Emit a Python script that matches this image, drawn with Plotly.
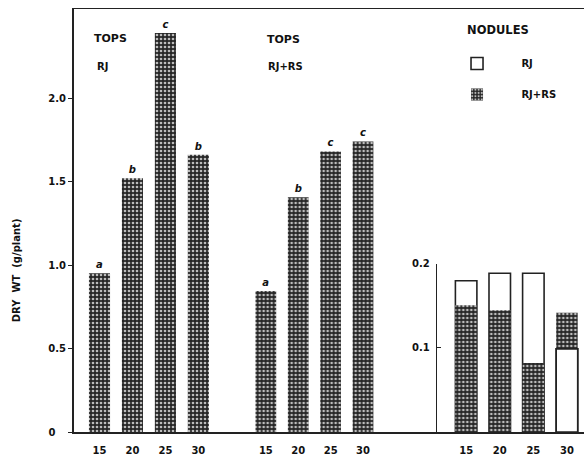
import plotly.graph_objects as go

temps = ["15", "20", "25", "30"]
tops_rj = [0.95, 1.52, 2.39, 1.66]
tops_rj_letters = ["a", "b", "c", "b"]
tops_rjrs = [0.845, 1.405, 1.68, 1.74]
tops_rjrs_letters = ["a", "b", "c", "c"]
nod_rj = [0.180, 0.189, 0.189, 0.099]
nod_rjrs = [0.151, 0.145, 0.082, 0.142]

tops_ticks = [0, 0.5, 1.0, 1.5, 2.0]
tops_ticktext = ["0\u00a0\u00a0\u00a0", "0.5", "1.0", "1.5", "2.0"]
nod_ticks = [0.1, 0.2]
nod_ticktext = ["0.1", "0.2"]

FONT = "DejaVu Sans"
DARK = dict(color="#2e2e2e", line=dict(width=0),
            pattern=dict(shape=".", size=4, solidity=0.35,
                         fgcolor="#bdbdbd", bgcolor="#262626", fillmode="replace"))
WHITE = dict(color="white", line=dict(color="#222", width=1.6))
LETTER_FONT = dict(size=10, family=FONT, color="#111", weight="bold", style="italic")
PAD = "\u00a0" * 7

fig = go.Figure()
fig.add_trace(go.Bar(x=temps, y=tops_rj, text=tops_rj_letters, textposition="outside",
                     textfont=LETTER_FONT, marker=DARK, xaxis="x", yaxis="y",
                     showlegend=False, cliponaxis=False))
fig.add_trace(go.Bar(x=temps, y=tops_rjrs, text=tops_rjrs_letters, textposition="outside",
                     textfont=LETTER_FONT, marker=DARK, xaxis="x2", yaxis="y",
                     showlegend=False, cliponaxis=False))
# nodules: overlaid, smaller value in front
fig.add_trace(go.Bar(x=temps, y=nod_rj, name=PAD + "RJ",
                     marker=WHITE, xaxis="x3", yaxis="y3", legendgroup="a"))
fig.add_trace(go.Bar(x=temps, y=nod_rjrs, name=PAD + "RJ+RS",
                     marker=DARK, xaxis="x3", yaxis="y3", legendgroup="b"))
front_rj = [a if a < b else None for a, b in zip(nod_rj, nod_rjrs)]
fig.add_trace(go.Bar(x=temps, y=front_rj, marker=WHITE, xaxis="x3", yaxis="y3",
                     showlegend=False))
fig.add_trace(go.Scatter(x=[0, 1], y=[None, None], xaxis="x4", yaxis="y", showlegend=False))

tickfont = dict(family=FONT, size=10, color="#111", weight="bold")
common_x = dict(type="category", showline=False, ticks="", showgrid=False, zeroline=False,
                tickfont=tickfont, ticklabelstandoff=11, fixedrange=True)

fig.update_layout(
    width=584, height=458,
    margin=dict(l=72, r=0, t=9, b=26),
    paper_bgcolor="white", plot_bgcolor="rgba(0,0,0,0)",
    barmode="overlay", bargap=0.36,
    font=dict(family=FONT, color="#111"),
    xaxis=dict(domain=[0.0215, 0.279], anchor="y", **common_x),
    xaxis2=dict(domain=[0.347, 0.600], anchor="y", **common_x),
    xaxis3=dict(domain=[0.737, 0.9995], anchor="y3", **common_x),
    xaxis4=dict(domain=[0, 1], anchor="y", showline=True, mirror=True, range=[0, 1],
                linecolor="#222", linewidth=1.5, showticklabels=False, ticks="",
                showgrid=False, zeroline=False),
    yaxis=dict(domain=[0, 1], range=[0, 2.533], tickvals=tops_ticks, ticktext=tops_ticktext,
               anchor="free", position=0,
               showline=True, linecolor="#222", linewidth=1.5, ticks="outside", ticklen=4,
               tickcolor="#222", showgrid=False, zeroline=False, tickfont=tickfont),
    yaxis3=dict(domain=[0, 0.3972], range=[0, 0.2], anchor="free", position=0.7104,
                tickvals=nod_ticks, ticktext=nod_ticktext,
                showline=True, linecolor="#222", linewidth=1.3, ticks="inside", ticklen=4,
                tickcolor="#222", showgrid=False, zeroline=False, tickfont=tickfont,
                ticklabelstandoff=4),
    legend=dict(x=0.752, y=0.976, xanchor="left", yanchor="top",
                title=dict(text="\u00a0\u00a0NODULES<br> ", side="top",
                           font=dict(family=FONT, size=11.5, weight="bold")),
                font=dict(family=FONT, size=10, weight="bold"),
                tracegroupgap=12, bgcolor="rgba(0,0,0,0)"),
    annotations=[
        dict(text="TOPS", x=0.0391, y=0.931, xref="paper", yref="paper", xanchor="left",
             yanchor="middle", showarrow=False, font=dict(size=11, weight="bold")),
        dict(text="RJ", x=0.0449, y=0.863, xref="paper", yref="paper", xanchor="left",
             yanchor="middle", showarrow=False, font=dict(size=10, weight="bold")),
        dict(text="TOPS", x=0.377, y=0.927, xref="paper", yref="paper", xanchor="left",
             yanchor="middle", showarrow=False, font=dict(size=11, weight="bold")),
        dict(text="RJ+RS", x=0.379, y=0.863, xref="paper", yref="paper", xanchor="left",
             yanchor="middle", showarrow=False, font=dict(size=10, weight="bold")),
        dict(text="DRY  WT  (g/plant)", x=-0.107, y=0.383, xref="paper", yref="paper",
             xanchor="center", yanchor="middle",
             textangle=-90, showarrow=False, font=dict(size=10, weight="bold")),
    ],
)

fig.write_html("out.html", config={"displayModeBar": False, "staticPlot": True},
               post_script="document.body.style.margin='0';document.body.style.overflow='hidden';")
